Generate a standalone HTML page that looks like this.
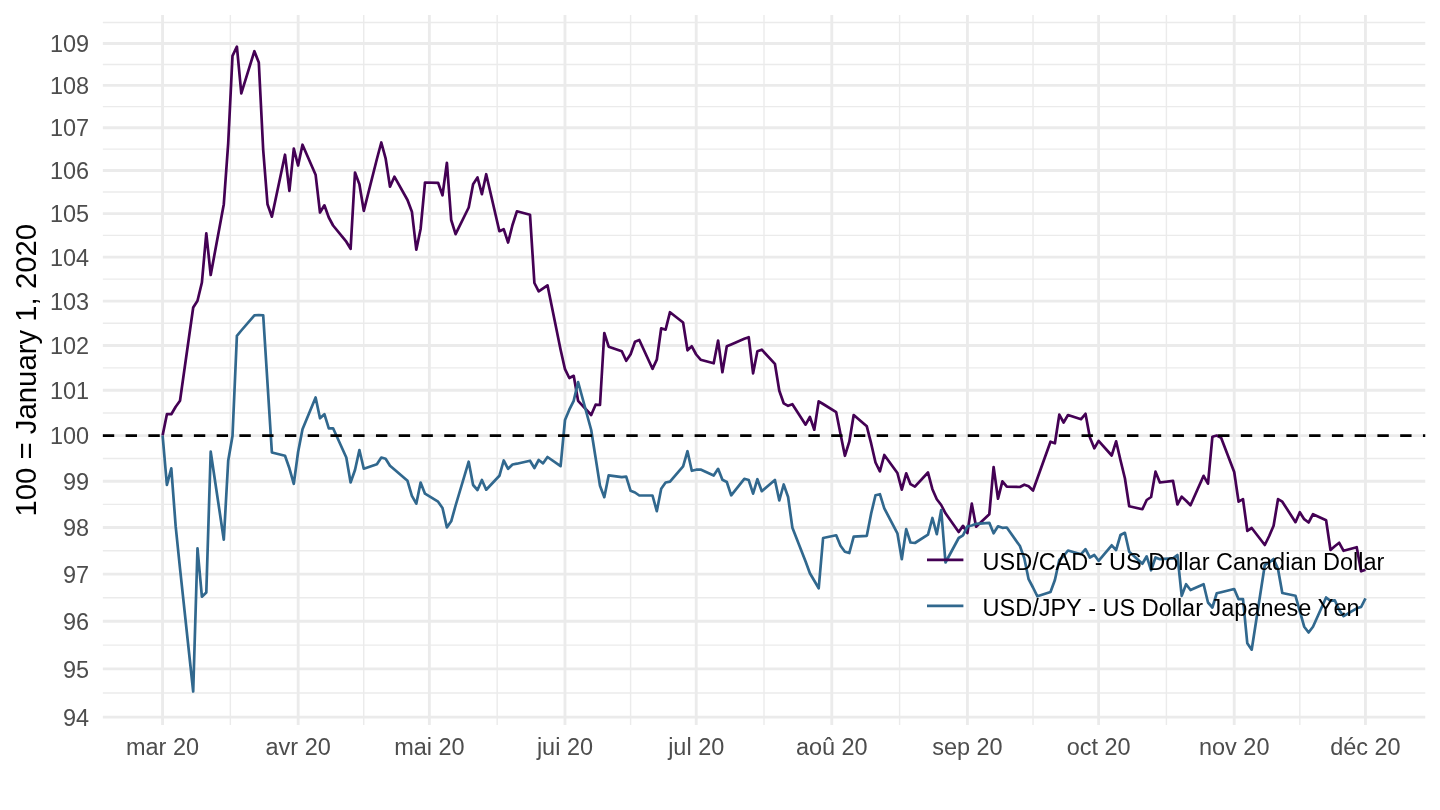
<!DOCTYPE html>
<html lang="fr"><head><meta charset="utf-8"><title>USD/CAD, USD/JPY</title>
<style>html,body{margin:0;padding:0;background:#fff;}body{width:1440px;height:810px;overflow:hidden;}svg{display:block;}</style>
</head><body>
<svg width="1440" height="810" viewBox="0 0 1440 810" font-family="'Liberation Sans', Arial, Helvetica, sans-serif">
<rect width="1440" height="810" fill="#fff"/>
<g stroke="#EBEBEB" stroke-width="1.42" fill="none">
<line x1="102.85" x2="1425.25" y1="692.98" y2="692.98"/>
<line x1="102.85" x2="1425.25" y1="645.09" y2="645.09"/>
<line x1="102.85" x2="1425.25" y1="597.70" y2="597.70"/>
<line x1="102.85" x2="1425.25" y1="550.80" y2="550.80"/>
<line x1="102.85" x2="1425.25" y1="504.37" y2="504.37"/>
<line x1="102.85" x2="1425.25" y1="458.42" y2="458.42"/>
<line x1="102.85" x2="1425.25" y1="412.92" y2="412.92"/>
<line x1="102.85" x2="1425.25" y1="367.88" y2="367.88"/>
<line x1="102.85" x2="1425.25" y1="323.27" y2="323.27"/>
<line x1="102.85" x2="1425.25" y1="279.10" y2="279.10"/>
<line x1="102.85" x2="1425.25" y1="235.36" y2="235.36"/>
<line x1="102.85" x2="1425.25" y1="192.03" y2="192.03"/>
<line x1="102.85" x2="1425.25" y1="149.11" y2="149.11"/>
<line x1="102.85" x2="1425.25" y1="106.59" y2="106.59"/>
<line x1="102.85" x2="1425.25" y1="64.47" y2="64.47"/>
<line x1="102.85" x2="1425.25" y1="22.53" y2="22.53"/>
<line x1="230.35" x2="230.35" y1="15.0" y2="724.9"/>
<line x1="363.76" x2="363.76" y1="15.0" y2="724.9"/>
<line x1="497.17" x2="497.17" y1="15.0" y2="724.9"/>
<line x1="630.59" x2="630.59" y1="15.0" y2="724.9"/>
<line x1="764.00" x2="764.00" y1="15.0" y2="724.9"/>
<line x1="899.60" x2="899.60" y1="15.0" y2="724.9"/>
<line x1="1033.01" x2="1033.01" y1="15.0" y2="724.9"/>
<line x1="1166.42" x2="1166.42" y1="15.0" y2="724.9"/>
<line x1="1299.84" x2="1299.84" y1="15.0" y2="724.9"/>
</g>
<g stroke="#EBEBEB" stroke-width="2.85" fill="none">
<line x1="102.85" x2="1425.25" y1="717.05" y2="717.05"/>
<line x1="102.85" x2="1425.25" y1="668.91" y2="668.91"/>
<line x1="102.85" x2="1425.25" y1="621.27" y2="621.27"/>
<line x1="102.85" x2="1425.25" y1="574.13" y2="574.13"/>
<line x1="102.85" x2="1425.25" y1="527.47" y2="527.47"/>
<line x1="102.85" x2="1425.25" y1="481.28" y2="481.28"/>
<line x1="102.85" x2="1425.25" y1="435.56" y2="435.56"/>
<line x1="102.85" x2="1425.25" y1="390.29" y2="390.29"/>
<line x1="102.85" x2="1425.25" y1="345.47" y2="345.47"/>
<line x1="102.85" x2="1425.25" y1="301.08" y2="301.08"/>
<line x1="102.85" x2="1425.25" y1="257.13" y2="257.13"/>
<line x1="102.85" x2="1425.25" y1="213.59" y2="213.59"/>
<line x1="102.85" x2="1425.25" y1="170.47" y2="170.47"/>
<line x1="102.85" x2="1425.25" y1="127.75" y2="127.75"/>
<line x1="102.85" x2="1425.25" y1="85.43" y2="85.43"/>
<line x1="102.85" x2="1425.25" y1="43.50" y2="43.50"/>
<line x1="162.55" x2="162.55" y1="15.0" y2="724.9"/>
<line x1="298.15" x2="298.15" y1="15.0" y2="724.9"/>
<line x1="429.38" x2="429.38" y1="15.0" y2="724.9"/>
<line x1="564.97" x2="564.97" y1="15.0" y2="724.9"/>
<line x1="696.20" x2="696.20" y1="15.0" y2="724.9"/>
<line x1="831.80" x2="831.80" y1="15.0" y2="724.9"/>
<line x1="967.40" x2="967.40" y1="15.0" y2="724.9"/>
<line x1="1098.62" x2="1098.62" y1="15.0" y2="724.9"/>
<line x1="1234.22" x2="1234.22" y1="15.0" y2="724.9"/>
<line x1="1365.45" x2="1365.45" y1="15.0" y2="724.9"/>
</g>
<path d="M162.6,435.5 L166.9,414.2 L171.3,414.2 L175.7,406.7 L180.0,400.8 L193.2,307.5 L197.5,300.8 L201.9,282.5 L206.3,233.3 L210.7,275.0 L223.8,204.2 L228.2,143.3 L232.5,55.8 L236.9,46.7 L241.3,93.3 L254.4,51.2 L258.8,62.5 L263.2,150.0 L267.5,204.2 L271.9,216.7 L285.0,154.7 L289.4,190.8 L293.8,148.7 L298.1,165.5 L302.5,144.7 L315.6,174.7 L320.0,212.5 L324.4,205.3 L328.8,217.5 L333.1,225.5 L346.3,241.7 L350.6,248.8 L355.0,172.5 L359.4,184.2 L363.8,210.8 L376.9,159.0 L381.3,142.5 L385.6,158.3 L390.0,186.7 L394.4,176.7 L407.5,200.0 L411.9,211.7 L416.3,249.7 L420.6,229.0 L425.0,182.5 L438.1,182.8 L442.5,195.3 L446.9,162.8 L451.2,220.0 L455.6,234.2 L468.7,207.5 L473.1,184.2 L477.5,177.5 L481.9,194.2 L486.2,174.2 L499.4,231.2 L503.7,229.2 L508.1,242.5 L512.5,225.0 L516.9,211.3 L530.0,214.7 L534.4,283.0 L538.7,291.3 L543.1,288.3 L547.5,285.3 L560.6,349.7 L565.0,369.2 L569.3,378.0 L573.7,375.8 L578.1,400.8 L591.2,415.0 L595.6,404.7 L600.0,405.0 L604.3,333.0 L608.7,346.7 L621.8,351.3 L626.2,360.8 L630.6,354.2 L635.0,341.7 L639.3,340.0 L652.5,368.8 L656.8,359.7 L661.2,328.3 L665.6,329.7 L670.0,312.2 L683.1,322.5 L687.5,350.3 L691.8,346.3 L696.2,354.5 L700.6,359.7 L713.7,363.3 L718.1,340.5 L722.4,372.2 L726.8,346.3 L731.2,344.5 L744.3,338.8 L748.7,337.2 L753.1,373.3 L757.4,351.3 L761.8,349.7 L774.9,363.8 L779.3,390.8 L783.7,403.3 L788.1,405.8 L792.4,404.2 L805.6,424.7 L809.9,417.0 L814.3,429.7 L818.7,401.3 L823.1,404.0 L836.2,412.2 L840.5,434.0 L844.9,455.8 L849.3,441.7 L853.7,415.0 L866.8,426.3 L871.2,443.7 L875.5,462.5 L879.9,471.3 L884.3,455.0 L897.4,473.0 L901.8,489.7 L906.2,473.3 L910.5,484.2 L914.9,486.7 L928.0,472.5 L932.4,489.2 L936.8,499.2 L941.2,505.0 L945.5,513.3 L958.7,532.0 L963.0,525.8 L967.4,533.0 L971.8,503.7 L976.1,526.7 L989.3,514.2 L993.6,467.0 L998.0,498.7 L1002.4,481.3 L1006.8,486.7 L1019.9,487.0 L1024.3,484.7 L1028.6,486.3 L1033.0,490.5 L1037.4,478.3 L1050.5,441.7 L1054.9,443.3 L1059.3,414.7 L1063.6,422.5 L1068.0,415.0 L1081.1,419.2 L1085.5,413.8 L1089.9,437.5 L1094.3,448.3 L1098.6,440.8 L1111.7,455.5 L1116.1,441.3 L1120.5,460.2 L1124.9,478.3 L1129.2,506.3 L1142.4,509.2 L1146.7,500.0 L1151.1,497.0 L1155.5,471.7 L1159.9,482.5 L1173.0,480.8 L1177.4,504.5 L1181.7,496.7 L1186.1,500.8 L1190.5,505.3 L1203.6,475.8 L1208.0,483.7 L1212.4,436.7 L1216.7,435.5 L1221.1,437.8 L1234.2,472.0 L1238.6,501.7 L1243.0,499.2 L1247.3,530.8 L1251.7,528.0 L1264.8,545.0 L1269.2,536.0 L1273.6,525.8 L1278.0,499.2 L1282.3,501.7 L1295.5,522.2 L1299.8,512.2 L1304.2,519.2 L1308.6,522.5 L1313.0,514.2 L1326.1,520.3 L1330.5,550.0 L1334.8,546.3 L1339.2,542.8 L1343.6,550.8 L1356.7,547.2 L1361.1,571.3 L1365.5,569.7" fill="none" stroke="#440154" stroke-width="2.7" stroke-linejoin="round" stroke-linecap="butt"/>
<path d="M162.6,435.5 L166.9,485.0 L171.3,468.3 L175.7,526.7 L180.0,568.3 L193.2,691.5 L197.5,548.3 L201.9,596.7 L206.3,592.5 L210.7,451.7 L223.8,539.7 L228.2,460.8 L232.5,436.0 L236.9,335.8 L241.3,330.5 L254.4,315.3 L258.8,315.0 L263.2,315.3 L271.9,452.5 L285.0,455.8 L289.4,468.3 L293.8,483.8 L298.1,452.0 L302.5,429.2 L315.6,397.5 L320.0,418.3 L324.4,414.2 L328.8,428.3 L333.1,428.3 L346.3,457.5 L350.6,482.5 L355.0,470.0 L359.4,450.0 L363.8,468.7 L376.9,464.2 L381.3,457.5 L385.6,458.7 L390.0,465.8 L394.4,469.6 L407.5,480.8 L411.9,495.8 L416.3,503.7 L420.6,482.5 L425.0,493.7 L438.1,501.7 L442.5,508.0 L446.9,527.4 L451.2,521.3 L455.6,505.5 L468.7,461.7 L473.1,485.0 L477.5,490.0 L481.9,480.0 L486.2,489.7 L499.4,475.8 L503.7,460.5 L508.1,468.8 L512.5,464.5 L516.9,463.7 L530.0,460.7 L534.4,468.0 L538.7,460.0 L543.1,463.3 L547.5,457.0 L560.6,466.2 L565.0,420.0 L569.3,409.7 L573.7,400.8 L578.1,382.0 L591.2,430.0 L595.6,457.8 L600.0,485.8 L604.3,497.2 L608.7,475.3 L621.8,477.2 L626.2,476.7 L630.6,490.8 L635.0,492.5 L639.3,495.5 L652.5,495.5 L656.8,511.2 L661.2,488.7 L665.6,482.5 L670.0,481.7 L683.1,466.3 L687.5,451.2 L691.8,470.8 L696.2,469.7 L700.6,469.5 L713.7,475.5 L718.1,468.8 L722.4,479.7 L726.8,482.0 L731.2,495.3 L744.3,478.8 L748.7,480.0 L753.1,493.7 L757.4,479.2 L761.8,491.2 L774.9,480.0 L779.3,500.5 L783.7,484.5 L788.1,497.0 L792.4,527.8 L805.6,561.5 L809.9,573.3 L814.3,580.8 L818.7,588.3 L823.1,538.0 L836.2,535.3 L840.5,545.8 L844.9,551.7 L849.3,553.0 L853.7,536.7 L866.8,535.8 L871.2,513.3 L875.5,495.3 L879.9,494.2 L884.3,508.3 L897.4,533.3 L901.8,559.2 L906.2,529.2 L910.5,542.5 L914.9,543.0 L928.0,534.7 L932.4,518.0 L936.8,534.2 L941.2,510.0 L945.5,562.5 L958.7,538.0 L963.0,535.3 L967.4,526.3 L971.8,525.5 L976.1,523.8 L989.3,522.8 L993.6,533.3 L998.0,526.3 L1002.4,527.8 L1006.8,527.5 L1019.9,546.0 L1024.3,558.3 L1028.6,579.2 L1033.0,587.5 L1037.4,596.3 L1050.5,592.0 L1054.9,580.0 L1059.3,560.0 L1063.6,556.0 L1068.0,550.5 L1081.1,554.2 L1085.5,549.2 L1089.9,557.5 L1094.3,555.0 L1098.6,560.8 L1111.7,545.3 L1116.1,550.0 L1120.5,535.0 L1124.9,532.8 L1129.2,551.7 L1142.4,563.7 L1146.7,556.3 L1151.1,570.3 L1155.5,557.5 L1159.9,559.2 L1173.0,558.3 L1177.4,555.0 L1181.7,595.8 L1186.1,584.2 L1190.5,590.0 L1203.6,584.2 L1208.0,602.5 L1212.4,607.5 L1216.7,593.3 L1221.1,592.2 L1234.2,589.0 L1238.6,599.2 L1243.0,599.2 L1247.3,643.3 L1251.7,649.7 L1264.8,565.0 L1269.2,562.5 L1273.6,559.0 L1278.0,569.0 L1282.3,593.0 L1295.5,595.8 L1299.8,611.2 L1304.2,626.7 L1308.6,632.5 L1313.0,626.7 L1326.1,597.5 L1330.5,600.8 L1334.8,600.3 L1339.2,610.0 L1343.6,616.2 L1356.7,608.3 L1361.1,607.0 L1365.5,598.3" fill="none" stroke="#31688E" stroke-width="2.7" stroke-linejoin="round" stroke-linecap="butt"/>
<line x1="102.85" x2="1425.25" y1="435.56" y2="435.56" stroke="#000" stroke-width="2.85" stroke-dasharray="11.38 11.38"/>
<line x1="927" x2="963.4" y1="559.8" y2="559.8" stroke="#440154" stroke-width="2.7"/>
<line x1="927" x2="963.4" y1="605.8" y2="605.8" stroke="#31688E" stroke-width="2.7"/>
<g font-size="23.47" fill="#000" style="font-kerning:none">
<text x="982.6" y="569.5">USD/CAD - US Dollar Canadian Dollar</text>
<text x="982.6" y="615.6">USD/JPY - US Dollar Japanese Yen</text>
</g>
<g font-size="23.47" fill="#4D4D4D" text-anchor="end">
<text x="89.1" y="725.65">94</text>
<text x="89.1" y="677.51">95</text>
<text x="89.1" y="629.87">96</text>
<text x="89.1" y="582.73">97</text>
<text x="89.1" y="536.07">98</text>
<text x="89.1" y="489.88">99</text>
<text x="89.1" y="444.16">100</text>
<text x="89.1" y="398.89">101</text>
<text x="89.1" y="354.07">102</text>
<text x="89.1" y="309.68">103</text>
<text x="89.1" y="265.73">104</text>
<text x="89.1" y="222.19">105</text>
<text x="89.1" y="179.07">106</text>
<text x="89.1" y="136.35">107</text>
<text x="89.1" y="94.03">108</text>
<text x="89.1" y="52.10">109</text>
</g>
<g font-size="23.47" fill="#4D4D4D" text-anchor="middle">
<text x="162.55" y="755.4">mar 20</text>
<text x="298.15" y="755.4">avr 20</text>
<text x="429.38" y="755.4">mai 20</text>
<text x="564.97" y="755.4">jui 20</text>
<text x="696.20" y="755.4">jul 20</text>
<text x="831.80" y="755.4">aoû 20</text>
<text x="967.40" y="755.4">sep 20</text>
<text x="1098.62" y="755.4">oct 20</text>
<text x="1234.22" y="755.4">nov 20</text>
<text x="1365.45" y="755.4">déc 20</text>
</g>
<text font-size="29.33" fill="#000" text-anchor="middle" transform="translate(35.9,370.2) rotate(-90)">100 = January 1, 2020</text>
</svg>
</body></html>
